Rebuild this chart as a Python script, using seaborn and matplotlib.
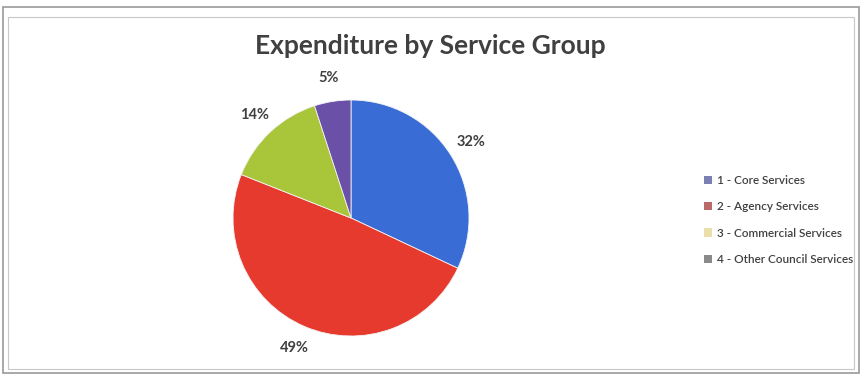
import matplotlib
matplotlib.use("Agg")
import matplotlib.pyplot as plt
import seaborn as sns
from matplotlib.patches import Rectangle, Patch

# Expenditure share per service group
groups = ["1 - Core Services", "2 - Agency Services",
          "3 - Commercial Services", "4 - Other Council Services"]
shares = [32, 49, 14, 5]
slice_colors = ["#3a6cd6", "#e63a2e", "#a9c53a", "#6a50a6"]
legend_colors = ["#7b80b4", "#bb6a6a", "#e9deac", "#8a8a8a"]

sns.set_theme(style="white")
plt.rcParams["font.family"] = ["Lato", "DejaVu Sans"]

fig = plt.figure(figsize=(8.63, 3.77), dpi=100)
W, H = 863, 377

# pie axes: centre (351, 218) px, radius 118 px
r_px = 118
span = 1.27
side = 2 * span * r_px
cx, cy = 351, H - 218
ax = fig.add_axes([(cx - side / 2) / W, (cy - side / 2) / H, side / W, side / H])
ax.pie(shares, colors=slice_colors, startangle=90, counterclock=False,
       autopct=lambda p: f"{p:.0f}%", pctdistance=1.2,
       wedgeprops=dict(linewidth=0.6, edgecolor="#f4f4f4"),
       textprops=dict(color="#404040", fontsize=10.5, fontweight="bold"))
ax.set_xlim(-span, span)
ax.set_ylim(-span, span)
ax.set_aspect("equal")
ax.axis("off")

fig.text(430 / W, 1 - 46 / H, "Expenditure by Service Group",
         ha="center", va="center", fontsize=19, fontweight="bold", color="#404040")

handles = [Patch(facecolor=c, edgecolor="none") for c in legend_colors]
fig.legend(handles, groups, loc="center left", bbox_to_anchor=(693 / W, 1 - 220 / H),
           frameon=False, prop=dict(size=8.5, weight="semibold"), labelcolor="#404040",
           handlelength=0.7, handleheight=0.7, handletextpad=0.4, labelspacing=1.3)

# outer chart frame
fig.add_artist(Rectangle((3 / W, 4 / H), 856 / W, 366 / H, transform=fig.transFigure,
                         fill=False, edgecolor="#9a9a9a", linewidth=1.2))
fig.add_artist(Rectangle((8 / W, 8 / H), 846 / W, 352 / H, transform=fig.transFigure,
                         fill=False, edgecolor="#c8c8c8", linewidth=0.8))

fig.savefig("out.png", dpi=100, facecolor="white")
